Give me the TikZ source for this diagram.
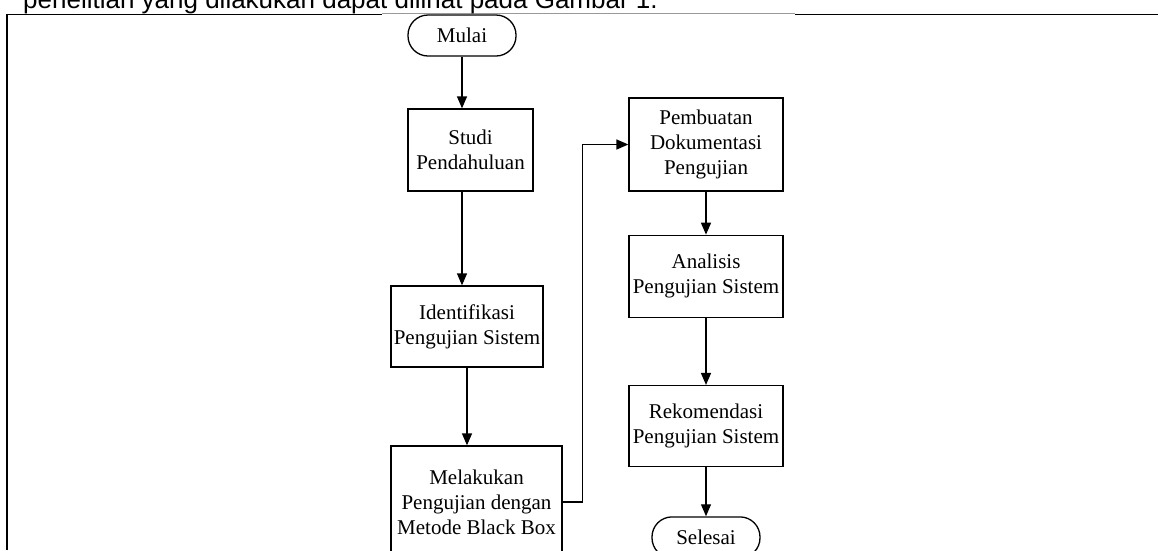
\documentclass[tikz,border=0pt]{standalone}
\usepackage{fontspec}
\setmainfont{Liberation Serif}
\newfontfamily\capfont{Liberation Sans}
\usetikzlibrary{arrows.meta,positioning}

\tikzset{
  proc/.style={draw,line width=1.3pt,align=center,inner sep=2pt,font=\fontsize{21}{25}\selectfont},
  term/.style={proc,rounded corners=20pt,minimum width=108pt,minimum height=41pt},
  flow/.style={line width=1.3pt,-{Triangle[length=12pt,width=10pt]}},
}

\begin{document}
\begin{tikzpicture}[x=1pt,y=-1pt]
    \useasboundingbox (0,0) rectangle (1158,550);
    % frame and caption line
    \draw[line width=1.3pt] (7,550) -- (7,14.3) -- (382,14.3);
    \draw[line width=1.3pt] (795,14.3) -- (1158,14.3);
    \draw[gray!80,line width=1pt] (382,13.3) -- (795,13.3);
    \node[anchor=base west,inner sep=0pt,font=\capfont\fontsize{26}{30}\selectfont] (caption) at (23,8.5) {penelitian yang dilakukan dapat dilihat pada Gambar 1.};

    % left column
    \node[term] (mulai) at (462,35.5) {Mulai};
    \node[proc,minimum width=125pt,minimum height=82pt] (studi) at (470.5,150) {Studi\\Pendahuluan};
    \node[proc,minimum width=152pt,minimum height=81pt] (ident) at (467,326.5) {Identifikasi\\Pengujian Sistem};
    \node[proc,minimum width=171pt,minimum height=112pt] (uji) at (476.5,502) {Melakukan\\Pengujian dengan\\Metode Black Box};

    % right column
    \node[proc,minimum width=154pt,minimum height=93pt] (dok) at (706,144.5) {Pembuatan\\Dokumentasi\\Pengujian};
    \node[proc,minimum width=154pt,minimum height=82pt] (analisis) [below=43pt of dok] {Analisis\\Pengujian Sistem};
    \node[proc,minimum width=154pt,minimum height=81pt] (rekom) [below=67pt of analisis] {Rekomendasi\\Pengujian Sistem};
    \node[term] (selesai) [below=49pt of rekom] {Selesai};

    \draw[flow] (mulai) -- (mulai |- studi.north);
    \draw[flow] (studi.south -| mulai) -- (mulai |- ident.north);
    \draw[flow] (ident.south) -- (ident |- uji.north);
    \draw[flow] (uji.east) -- ++(20,0) |- (dok.west);
    \draw[flow] (dok) -- (analisis);
    \draw[flow] (analisis) -- (rekom);
    \draw[flow] (rekom) -- (selesai);
\end{tikzpicture}
\end{document}
